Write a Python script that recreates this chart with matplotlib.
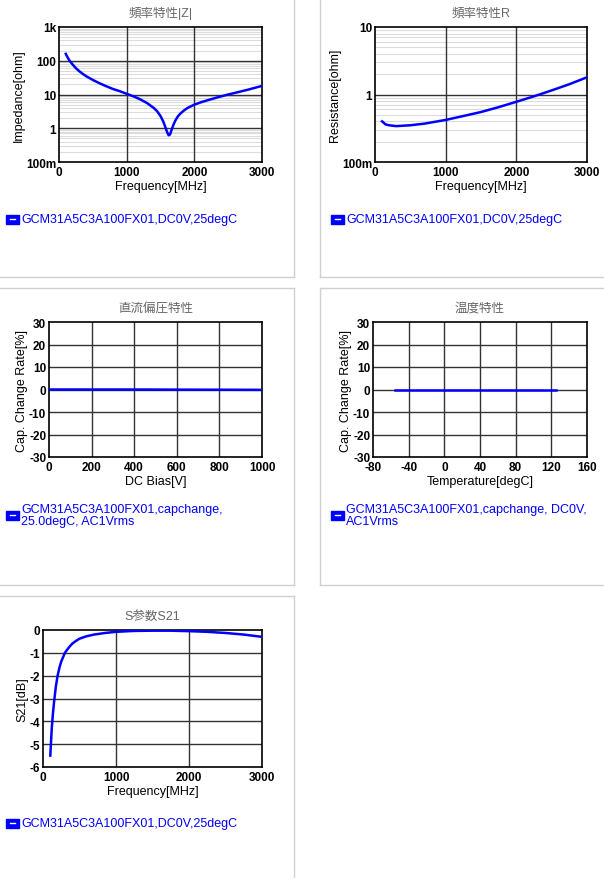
import matplotlib
matplotlib.use("Agg")
import matplotlib.pyplot as plt
from matplotlib.patches import Rectangle
from matplotlib.lines import Line2D
import numpy as np

plt.rcParams['font.family'] = ['Liberation Sans', 'Noto Sans CJK JP']
plt.rcParams['axes.unicode_minus'] = False

z_freq = [100, 125, 150, 175, 200, 250, 300, 350, 400, 500, 600, 700, 800, 900, 1000, 1100, 1200, 1300, 1400, 1450, 1500, 1540, 1570, 1600, 1620, 1640, 1660, 1690, 1720, 1760, 1800, 1850, 1900, 2000, 2100, 2200, 2350, 2500, 2650, 2800, 3000]
z_val = [160, 128, 105, 90, 78, 60, 49, 41, 35, 27, 21.5, 17.5, 14.5, 12.5, 10.5, 8.8, 7.2, 5.6, 4.0, 3.2, 2.3, 1.6, 1.1, 0.75, 0.62, 0.65, 0.85, 1.25, 1.7, 2.3, 2.8, 3.4, 4.0, 5.0, 5.9, 6.8, 8.3, 10.0, 11.8, 14.0, 18.0]
r_freq = [100, 150, 200, 300, 500, 700, 1000, 1250, 1500, 1750, 2000, 2250, 2500, 2750, 3000]
r_val = [0.40, 0.36, 0.35, 0.34, 0.35, 0.37, 0.42, 0.48, 0.55, 0.65, 0.78, 0.94, 1.15, 1.42, 1.8]
dc_v = [0, 200, 400, 600, 800, 1000]
dc_rate = [0, 0, 0, -0.05, -0.1, -0.15]
t_deg = [-55, -25, 0, 25, 50, 85, 125]
t_rate = [0, 0, 0, 0, 0, 0, 0]
s_freq = [100, 110, 120, 135, 150, 175, 200, 225, 250, 300, 350, 400, 450, 500, 600, 700, 850, 1000, 1250, 1500, 1750, 2000, 2250, 2500, 2750, 3000]
s_val = [-5.5, -4.9, -4.3, -3.7, -3.2, -2.5, -2.0, -1.65, -1.38, -1.0, -0.78, -0.6, -0.48, -0.38, -0.27, -0.2, -0.13, -0.08, -0.04, -0.03, -0.03, -0.05, -0.08, -0.13, -0.2, -0.3]

W, H = 604, 879
fig = plt.figure(figsize=(W/100, H/100), dpi=100)

def ax_px(x0, y0, x1, y1):
    return fig.add_axes([x0/W, 1-y1/H, (x1-x0)/W, (y1-y0)/H])

bc = '#d0d0d0'
def hline(x0, x1, y):
    fig.add_artist(Line2D([x0/W, x1/W], [1-y/H, 1-y/H], color=bc, lw=1))
def vline(x, y0, y1):
    fig.add_artist(Line2D([x/W, x/W], [1-y0/H, 1-y1/H], color=bc, lw=1))
vline(294, 0, 278); hline(0, 294, 278)
vline(320, 0, 278); hline(320, 604, 278)
hline(0, 294, 289); vline(294, 289, 586); hline(0, 294, 586)
hline(320, 604, 289); vline(320, 289, 586); hline(320, 604, 586)
hline(0, 294, 597); vline(294, 597, 879)

blue = '#0000ff'
fs = 8.5
gc = '#333333'

def style(ax, title):
    ax.set_title(title, fontsize=9, color='#666666', pad=8)
    for s in ax.spines.values():
        s.set_linewidth(1.2)
    ax.tick_params(which='both', length=0, labelsize=fs, pad=2)
    ax.tick_params(axis='x', pad=3)
    for lbl in ax.get_xticklabels() + ax.get_yticklabels():
        lbl.set_fontweight('bold')

def major_grid(ax):
    for v in ax.get_xticks()[1:-1]:
        ax.axvline(v, color=gc, lw=1, zorder=2)
    for v in ax.get_yticks()[1:-1]:
        ax.axhline(v, color=gc, lw=1, zorder=2)

def legend(x, y, text):
    fig.add_artist(Rectangle((x/W, 1-(y+5)/H), 13/W, 9/H, color=blue, transform=fig.transFigure))
    fig.add_artist(Line2D([(x+4)/W, (x+9)/W], [1-(y-0.5)/H]*2, color='white', lw=1))
    fig.text((x+15)/W, 1-y/H, text, color=blue, fontsize=9, va='center', ha='left', linespacing=1.0)

def log_axes(ax, ylo, yhi, ticks, labels):
    ax.set_yscale('log')
    ax.set_ylim(ylo, yhi); ax.set_xlim(0, 3000)
    ax.set_xticks([0, 1000, 2000, 3000])
    ax.set_yticks(ticks); ax.set_yticklabels(labels)
    ax.yaxis.set_minor_locator(matplotlib.ticker.LogLocator(subs=np.arange(2, 10)))
    ax.yaxis.set_minor_formatter(matplotlib.ticker.NullFormatter())
    ax.grid(which='minor', axis='y', color='#dcdcdc', lw=0.8)
    major_grid(ax)

# Panel 1
ax = ax_px(59, 28, 262, 163)
log_axes(ax, 0.1, 1000, [0.1, 1, 10, 100, 1000], ['100m', '1', '10', '100', '1k'])
ax.plot(z_freq, z_val, color=blue, lw=1.8, zorder=3)
ax.set_xlabel('Frequency[MHz]', fontsize=9, labelpad=1)
ax.set_ylabel('Impedance[ohm]', fontsize=9, labelpad=1)
style(ax, '頻率特性|Z|')
legend(6, 220, 'GCM31A5C3A100FX01,DC0V,25degC')

# Panel 2
ax = ax_px(375, 28, 587, 163)
log_axes(ax, 0.1, 10, [0.1, 1, 10], ['100m', '1', '10'])
ax.plot(r_freq, r_val, color=blue, lw=1.8, zorder=3)
ax.set_xlabel('Frequency[MHz]', fontsize=9, labelpad=1)
ax.set_ylabel('Resistance[ohm]', fontsize=9, labelpad=1)
style(ax, '頻率特性R')
legend(331, 220, 'GCM31A5C3A100FX01,DC0V,25degC')

# Panel 3
ax = ax_px(49, 323, 262, 458)
ax.set_xlim(0, 1000); ax.set_ylim(-30, 30)
ax.set_xticks(range(0, 1001, 200)); ax.set_yticks(range(-30, 31, 10))
major_grid(ax)
ax.plot(dc_v, dc_rate, color=blue, lw=1.8, zorder=3)
ax.set_xlabel('DC Bias[V]', fontsize=9, labelpad=1)
ax.set_ylabel('Cap. Change Rate[%]', fontsize=9, labelpad=1)
style(ax, '直流偏圧特性')
legend(6, 516, 'GCM31A5C3A100FX01,capchange,\n25.0degC, AC1Vrms')

# Panel 4
ax = ax_px(373, 323, 587, 458)
ax.set_xlim(-80, 160); ax.set_ylim(-30, 30)
ax.set_xticks(range(-80, 161, 40)); ax.set_yticks(range(-30, 31, 10))
major_grid(ax)
ax.plot(t_deg, t_rate, color=blue, lw=1.8, zorder=3)
ax.set_xlabel('Temperature[degC]', fontsize=9, labelpad=1)
ax.set_ylabel('Cap. Change Rate[%]', fontsize=9, labelpad=1)
style(ax, '温度特性')
legend(331, 516, 'GCM31A5C3A100FX01,capchange, DC0V,\nAC1Vrms')

# Panel 5
ax = ax_px(43, 631, 262, 768)
ax.set_xlim(0, 3000); ax.set_ylim(-6, 0)
ax.set_xticks([0, 1000, 2000, 3000]); ax.set_yticks(range(-6, 1))
major_grid(ax)
ax.plot(s_freq, s_val, color=blue, lw=1.8, zorder=3)
ax.set_xlabel('Frequency[MHz]', fontsize=9, labelpad=1)
ax.set_ylabel('S21[dB]', fontsize=9, labelpad=1)
style(ax, 'S参数S21')
legend(6, 824, 'GCM31A5C3A100FX01,DC0V,25degC')

fig.savefig('out.png', dpi=100)
